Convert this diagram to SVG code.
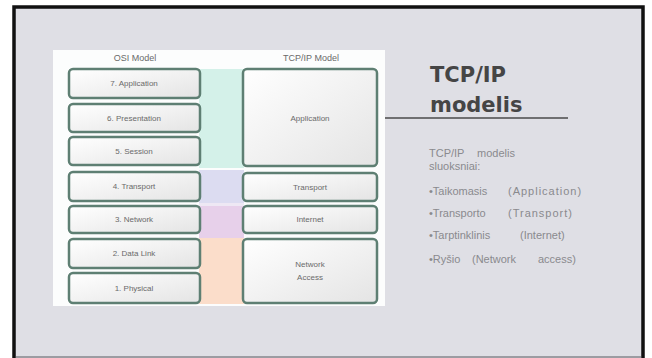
<svg xmlns="http://www.w3.org/2000/svg" width="652" height="358" viewBox="0 0 652 358">
  <defs>
    <linearGradient id="boxFill" x1="0" y1="0" x2="1" y2="1">
      <stop offset="0" stop-color="#ffffff"/>
      <stop offset="1" stop-color="#e4e4e4"/>
    </linearGradient>
    <style>
      .box { fill: url(#boxFill); stroke: #5e7f73; stroke-width: 2.5; }
      .lbl { font-family: "Liberation Sans", Arial, sans-serif; font-size: 8px; fill: #6a6a6a; text-anchor: middle; }
      .hdr { font-family: "Liberation Sans", Arial, sans-serif; font-size: 9px; fill: #6a6a6a; text-anchor: middle; }
      .title { font-family: "DejaVu Sans", Verdana, sans-serif; font-weight: bold; font-size: 21px; fill: #454545; }
      .body { font-family: "Liberation Sans", Arial, sans-serif; font-size: 11px; fill: #8a8a8e; }
    </style>
  </defs>

  <!-- background slide -->
  <rect x="0" y="0" width="652" height="358" fill="#ffffff"/>
  <rect x="14" y="7" width="629" height="362" fill="#dfdfe5" stroke="#111111" stroke-width="3.5"/>
  <rect x="16" y="356" width="625" height="2" fill="#9c9ca2"/>

  <!-- picture panel -->
  <rect x="53" y="50" width="332" height="256" fill="#fcfdfd"/>

  <!-- coloured bands -->
  <rect x="199" y="69" width="45" height="99" fill="#d4f1e9"/>
  <rect x="199" y="170" width="45" height="33" fill="#dcdcf1"/>
  <rect x="199" y="203" width="45" height="3" fill="#eee8f4"/>
  <rect x="199" y="206" width="45" height="32" fill="#e7d0ea"/>
  <rect x="199" y="238" width="45" height="66" fill="#fbddca"/>

  <text class="hdr" x="135" y="61">OSI Model</text>
  <text class="hdr" x="311" y="61">TCP/IP Model</text>

  <g id="osi7"><rect class="box" x="69" y="69" width="131" height="29" rx="4"/><text class="lbl" x="134" y="86">7. Application</text></g>
  <g id="osi6"><rect class="box" x="69" y="104" width="131" height="28" rx="4"/><text class="lbl" x="134" y="121">6. Presentation</text></g>
  <g id="osi5"><rect class="box" x="69" y="137" width="131" height="28" rx="4"/><text class="lbl" x="134" y="154">5. Session</text></g>
  <g id="osi4"><rect class="box" x="69" y="172" width="131" height="29" rx="4"/><text class="lbl" x="134" y="189">4. Transport</text></g>
  <g id="osi3"><rect class="box" x="69" y="206" width="131" height="27" rx="4"/><text class="lbl" x="134" y="222">3. Network</text></g>
  <g id="osi2"><rect class="box" x="69" y="239" width="131" height="29" rx="4"/><text class="lbl" x="134" y="256">2. Data Link</text></g>
  <g id="osi1"><rect class="box" x="69" y="273" width="131" height="30" rx="4"/><text class="lbl" x="134" y="291">1. Physical</text></g>

  <g id="tcpApp"><rect class="box" x="243" y="69" width="134" height="97" rx="4"/><text class="lbl" x="310" y="121">Application</text></g>
  <g id="tcpTransport"><rect class="box" x="243" y="173" width="134" height="28" rx="4"/><text class="lbl" x="310" y="190">Transport</text></g>
  <g id="tcpInternet"><rect class="box" x="243" y="206" width="134" height="27" rx="4"/><text class="lbl" x="310" y="222">Internet</text></g>
  <g id="tcpNetAccess"><rect class="box" x="243" y="239" width="134" height="64" rx="4"/><text class="lbl" x="310" y="267">Network</text><text class="lbl" x="310" y="280">Access</text></g>

  <g id="connectors"></g>

  <!-- title -->
  <g id="title">
    <text class="title" x="430" y="82">TCP/IP</text>
    <text class="title" x="430" y="112">modelis</text>
    <line x1="385" y1="118" x2="568" y2="118" stroke="#4a4a4a" stroke-width="1.5"/>
  </g>

  <!-- body text -->
  <g id="bodyText">
    <text class="body" y="157"><tspan x="429">TCP/IP</tspan><tspan x="477">modelis</tspan></text>
    <text class="body" x="429" y="170">sluoksniai:</text>
    <text class="body" y="195"><tspan x="429">•Taikomasis</tspan><tspan x="508" letter-spacing="1">(Application)</tspan></text>
    <text class="body" y="217"><tspan x="429">•Transporto</tspan><tspan x="508" letter-spacing="1">(Transport)</tspan></text>
    <text class="body" y="239"><tspan x="429">•Tarptinklinis</tspan><tspan x="520">(Internet)</tspan></text>
    <text class="body" y="263"><tspan x="429">•Ryšio</tspan><tspan x="472">(Network</tspan><tspan x="538">access)</tspan></text>
  </g>
</svg>
